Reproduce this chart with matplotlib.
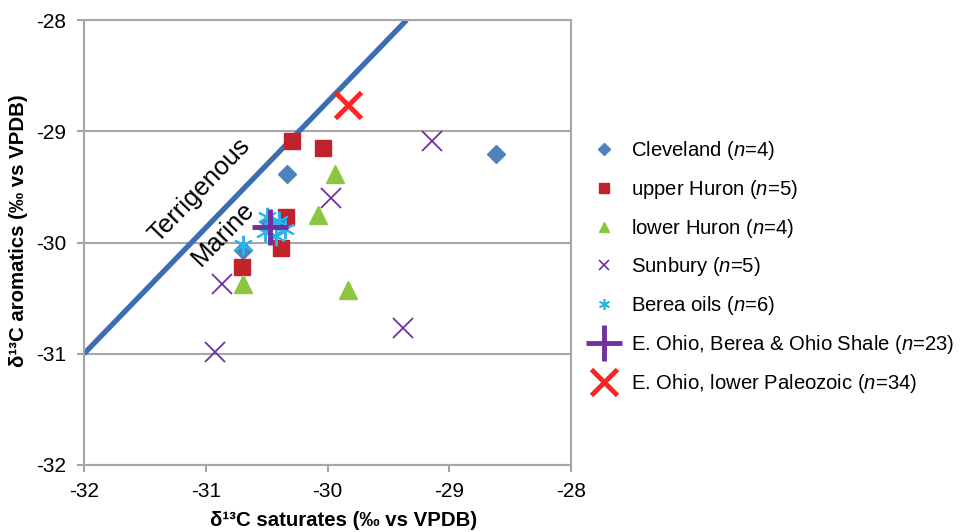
import matplotlib
matplotlib.use('Agg')
import matplotlib.pyplot as plt
from matplotlib.lines import Line2D

plt.rcParams['font.family'] = ['Liberation Sans', 'DejaVu Sans']
plt.rcParams['mathtext.fontset'] = 'custom'
plt.rcParams['mathtext.rm'] = 'Liberation Sans'
plt.rcParams['mathtext.it'] = 'Liberation Sans:italic'
plt.rcParams['mathtext.bf'] = 'Liberation Sans:bold'

# data (delta13C saturates, delta13C aromatics)
cleveland_x = [-30.33, -30.69, -28.62, -30.48]
cleveland_y = [-29.38, -30.07, -29.20, -29.82]
upper_huron_x = [-30.29, -30.04, -30.34, -30.38, -30.70]
upper_huron_y = [-29.09, -29.15, -29.77, -30.05, -30.22]
lower_huron_x = [-29.94, -30.08, -29.83, -30.69]
lower_huron_y = [-29.38, -29.75, -30.43, -30.37]
sunbury_x = [-29.14, -29.97, -29.38, -30.87, -30.92]
sunbury_y = [-29.09, -29.60, -30.77, -30.37, -30.98]
berea_x = [-30.69, -30.50, -30.40, -30.42, -30.51, -30.35]
berea_y = [-30.02, -29.77, -29.81, -29.94, -29.91, -29.88]
eohio_shale_x = [-30.47]
eohio_shale_y = [-29.86]
eohio_paleo_x = [-29.83]
eohio_paleo_y = [-28.76]

# terrigenous / marine divide
divide_x = [-32.0, -29.35]
divide_y = [-31.0, -28.0]

labels = ['Cleveland ($n$=4)', 'upper Huron ($n$=5)', 'lower Huron ($n$=4)',
          'Sunbury ($n$=5)', 'Berea oils ($n$=6)',
          'E. Ohio, Berea & Ohio Shale ($n$=23)', 'E. Ohio, lower Paleozoic ($n$=34)']

c_blue = '#4F81BD'
c_red = '#C0232B'
c_green = '#8CC63F'
c_purple = '#7030A0'
c_cyan = '#2AB4E8'
c_bigred = '#FF2222'
c_line = '#3C6DB0'

fig = plt.figure(figsize=(9.6, 5.32), dpi=100)
ax = fig.add_axes([84 / 960, 1 - 465 / 532, (571 - 84) / 960, (465 - 20) / 532])

ax.plot(divide_x, divide_y, color=c_line, lw=3.8, solid_capstyle='butt', zorder=2)

ax.plot(cleveland_x, cleveland_y, 'D', color=c_blue, ms=9, ls='none', zorder=3)
ax.plot(upper_huron_x, upper_huron_y, 's', color=c_red, ms=12, ls='none', zorder=3)
ax.plot(lower_huron_x, lower_huron_y, '^', color=c_green, ms=13, ls='none', zorder=3)
ax.plot(sunbury_x, sunbury_y, 'x', color=c_purple, ms=14, mew=1.3, ls='none', zorder=3)
ax.plot(berea_x, berea_y, marker=(6, 2, 0), color=c_cyan, ms=14, mew=1.4, ls='none', zorder=4)
ax.plot(eohio_shale_x, eohio_shale_y, '+', color=c_purple, ms=26, mew=3.5, ls='none', zorder=5)
ax.plot(eohio_paleo_x, eohio_paleo_y, 'x', color=c_bigred, ms=19, mew=3.5, ls='none', zorder=5)

ax.text(-31.05, -29.53, 'Terrigenous', rotation=46, fontsize=18.5,
        ha='center', va='center', rotation_mode='anchor', zorder=6)
ax.text(-30.86, -29.92, 'Marine', rotation=46, fontsize=18.5,
        ha='center', va='center', rotation_mode='anchor', zorder=6)

ax.set_xlim(-32, -28)
ax.set_ylim(-32, -28)
ax.set_xticks([-32, -31, -30, -29, -28])
ax.set_yticks([-32, -31, -30, -29, -28])
ax.set_xticklabels(['-32', '-31', '-30', '-29', '-28'])
ax.set_yticklabels(['-32', '-31', '-30', '-29', '-28'])
ax.tick_params(labelsize=15, colors='#909090', labelcolor='black', length=5, width=1.2)
ax.tick_params(axis='x', pad=7)
ax.tick_params(axis='y', pad=8)
ax.yaxis.grid(True, color='#A6A6A6', lw=1.5)
ax.set_axisbelow(True)
for s in ax.spines.values():
    s.set_color('#A6A6A6')
    s.set_linewidth(1.5)

ax.set_xlabel('δ¹³C saturates (‰ vs VPDB)', fontsize=14.7, fontweight='bold')
ax.set_ylabel('δ¹³C aromatics (‰ vs VPDB)', fontsize=14.7, fontweight='bold')
ax.xaxis.set_label_coords(0.532, -0.103)
ax.yaxis.set_label_coords(-0.115, 0.526)

handles = [
    Line2D([], [], marker='D', color=c_blue, ms=6, ls='none'),
    Line2D([], [], marker='s', color=c_red, ms=7, ls='none'),
    Line2D([], [], marker='^', color=c_green, ms=7, ls='none'),
    Line2D([], [], marker='x', color=c_purple, ms=7, mew=1.2, ls='none'),
    Line2D([], [], marker=(6, 2, 0), color=c_cyan, ms=8, mew=1.2, ls='none'),
    Line2D([], [], marker='+', color=c_purple, ms=26, mew=3.5, ls='none'),
    Line2D([], [], marker='x', color=c_bigred, ms=19, mew=3.5, ls='none'),
]
fig.legend(handles, labels, loc='center left', bbox_to_anchor=(580 / 960, 1 - 267 / 532),
           frameon=False, fontsize=14.6, labelspacing=0.78, handlelength=1.6,
           handletextpad=0.5, borderaxespad=0)

fig.savefig('out.png', dpi=100)
